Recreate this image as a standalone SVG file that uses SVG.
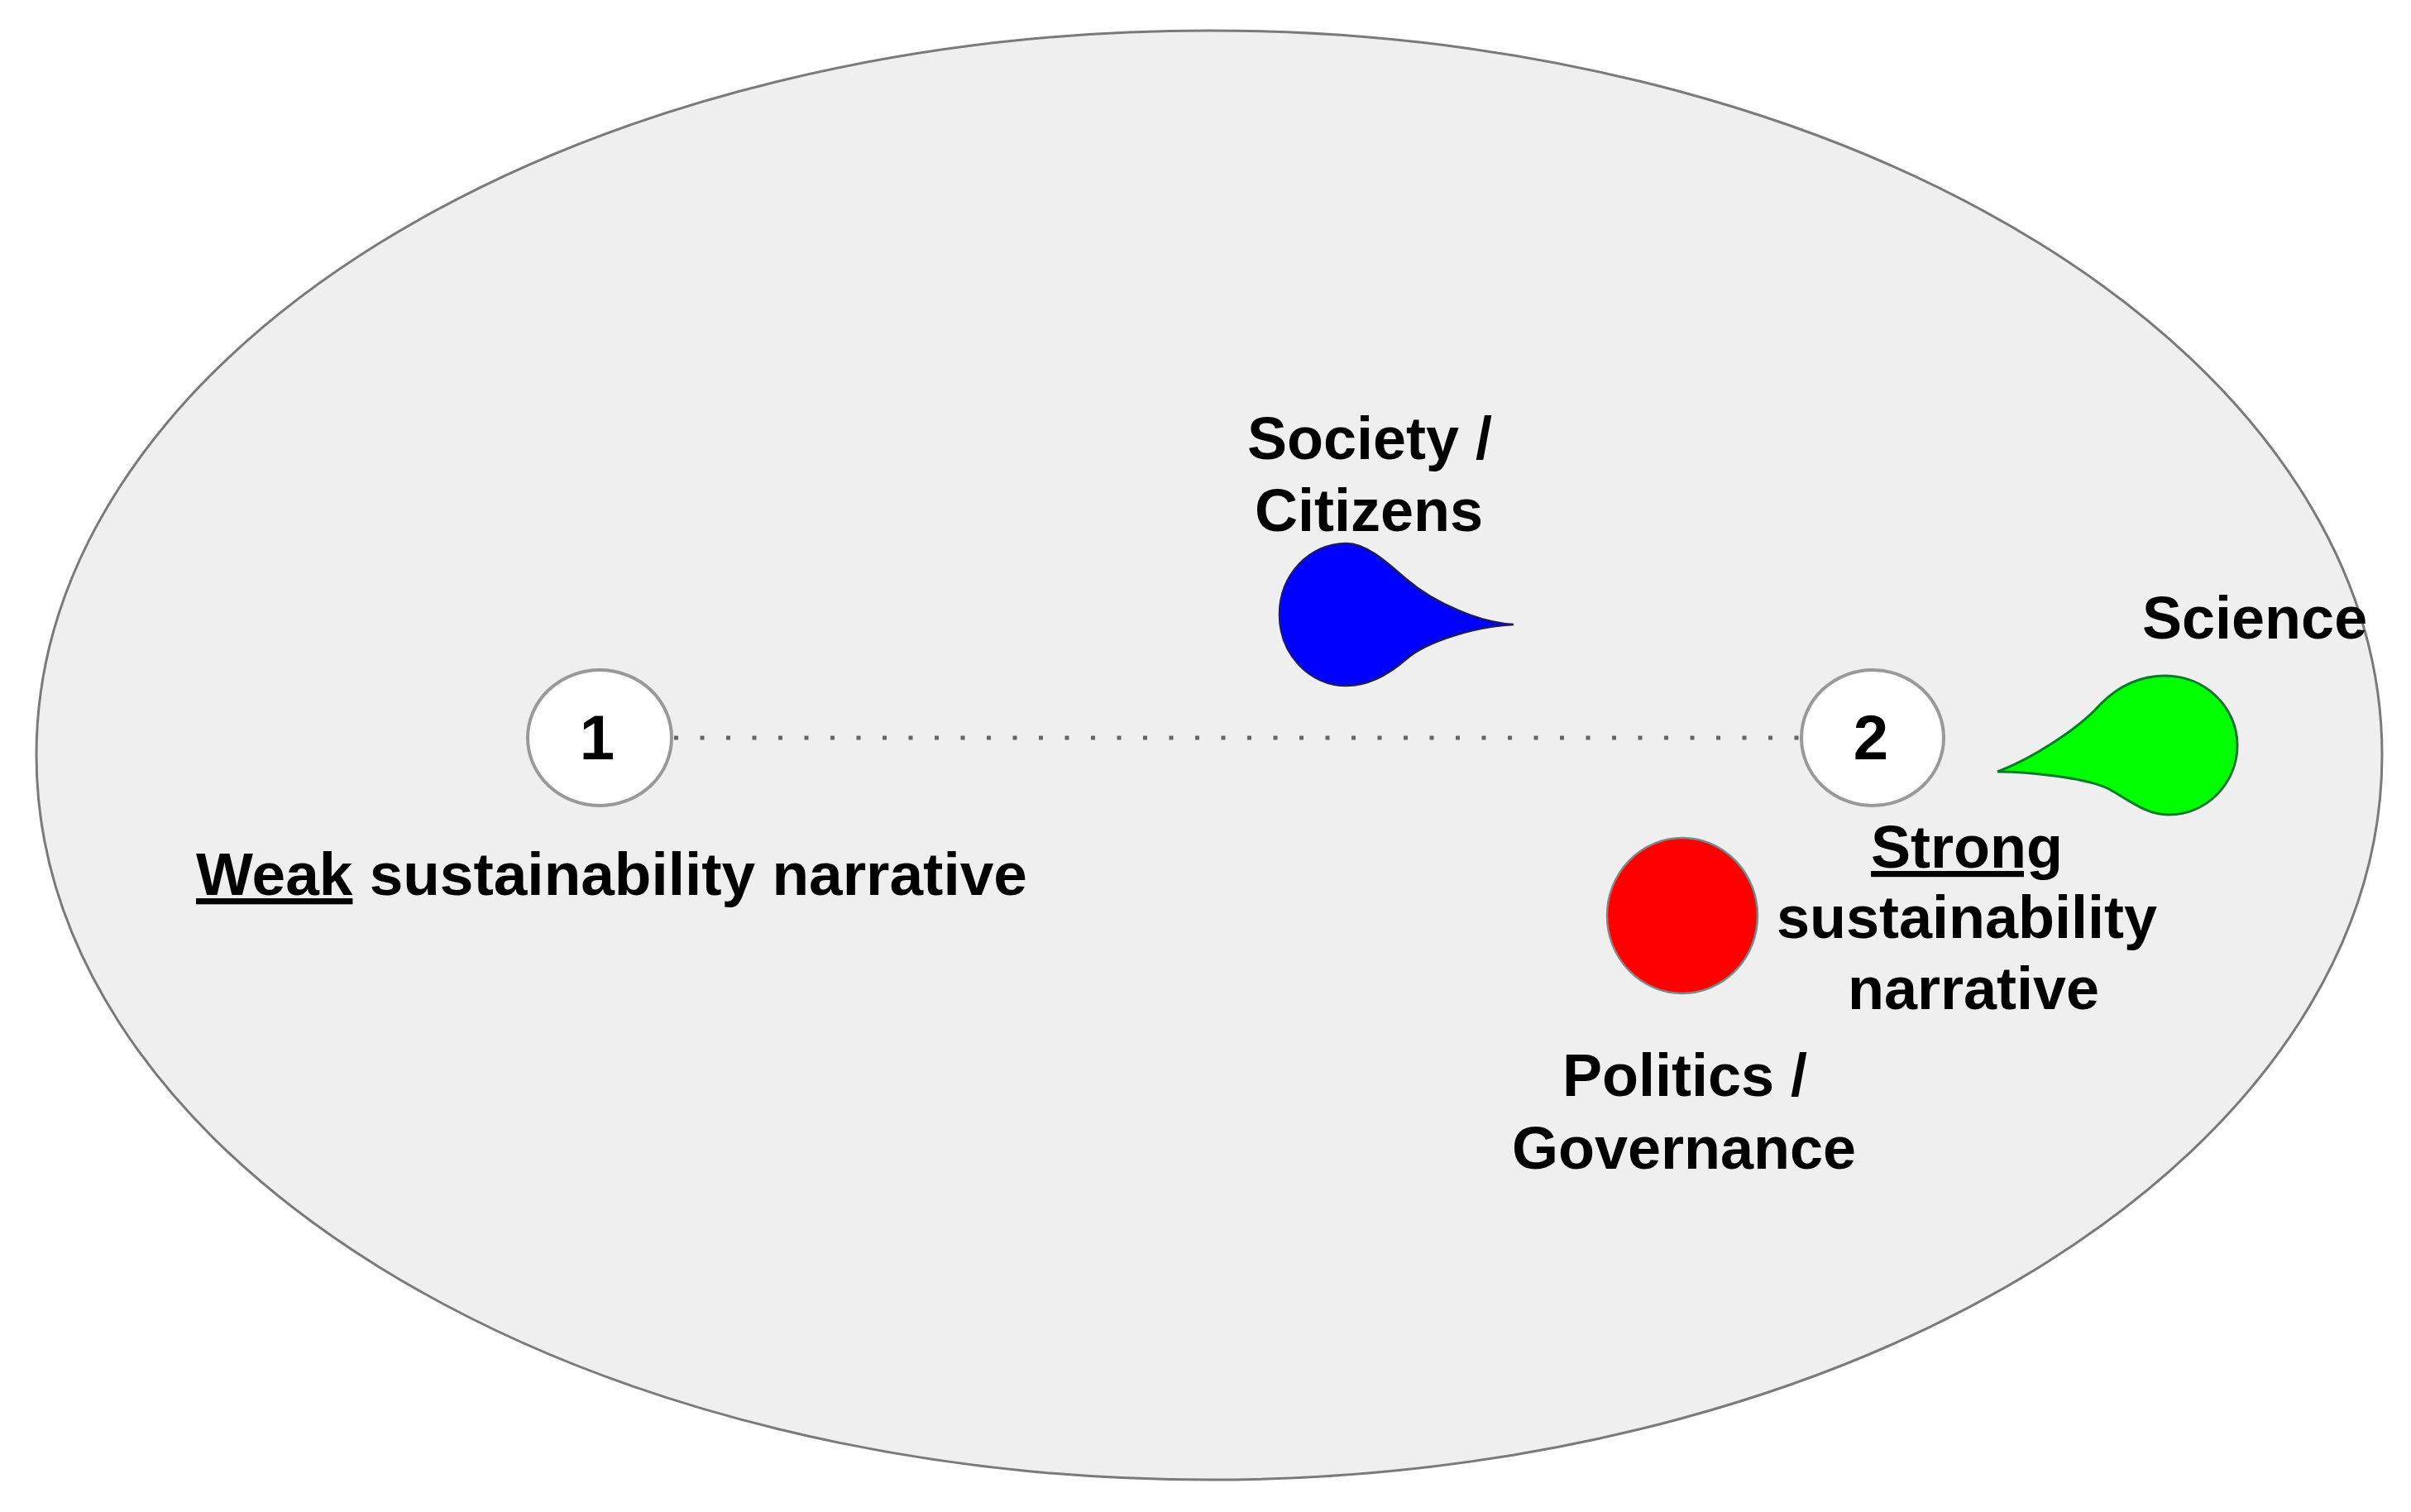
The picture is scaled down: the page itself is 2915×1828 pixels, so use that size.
<svg xmlns="http://www.w3.org/2000/svg" width="2915" height="1828" viewBox="0 0 2915 1828">
  <style>
    .lbl { font-family: "Liberation Sans", Arial, sans-serif; font-weight: bold; font-size: 72px; fill: #000; }
    .num { font-family: "Liberation Sans", Arial, sans-serif; font-weight: bold; font-size: 76px; fill: #000; text-anchor: middle; }
    .mid { text-anchor: middle; }
    .stage { fill: #ffffff; stroke: #999999; stroke-width: 4; }
    .conn { stroke: #666666; stroke-width: 5; stroke-dasharray: 5 26.5; fill: none; }
  </style>
  <rect x="0" y="0" width="2915" height="1828" fill="#ffffff"/>
  <g id="background">
    <ellipse cx="1462" cy="913" rx="1418" ry="876" fill="#efefef" stroke="#7a7a7a" stroke-width="3"/>
  </g>
  <g id="connectors">
    <line class="conn" x1="815" y1="892" x2="2178" y2="892"/>
  </g>
  <g id="node-1">
    <ellipse class="stage" cx="725" cy="892" rx="87" ry="82"/>
    <text class="num" x="722" y="918">1</text>
    <text class="lbl" x="237" y="1082" style="font-size:73px"><tspan text-decoration="underline">Weak</tspan> sustainability narrative</text>
  </g>
  <g id="node-2">
    <ellipse class="stage" cx="2264" cy="892" rx="86" ry="82"/>
    <text class="num" x="2262" y="918">2</text>
    <text class="lbl mid" x="2378" y="1049" text-decoration="underline">Strong</text>
    <text class="lbl mid" x="2378" y="1134">sustainability</text>
    <text class="lbl mid" x="2386" y="1220">narrative</text>
  </g>
  <g id="society">
    <path d="M1830,755 C1790,753 1735,730 1700,700 C1680,683 1653,657 1628,657 C1583,657 1547,695.5 1547,743 C1547,790.5 1583,829 1628,829 C1660,829 1685,810 1700,797 C1725,775 1785,757 1830,755 Z" fill="#0000ff" stroke="#1a1a66" stroke-width="2.5"/>
    <text class="lbl mid" x="1656" y="555">Society /</text>
    <text class="lbl mid" x="1655" y="642">Citizens</text>
  </g>
  <g id="science">
    <path d="M2415,933 C2455,918 2512,882 2538,853 C2560,830 2585,817 2618,817 C2666,817 2705,855 2705,901 C2705,947 2668,985 2622,985 C2594,985 2572,966 2550,954 C2523,940 2450,933 2415,933 Z" fill="#00ff00" stroke="#0b7a2b" stroke-width="3"/>
    <text class="lbl" x="2590" y="772">Science</text>
  </g>
  <g id="politics">
    <ellipse cx="2034" cy="1107" rx="91" ry="94" fill="#ff0000" stroke="#7a8a8a" stroke-width="2.5"/>
    <text class="lbl mid" x="2037" y="1325">Politics /</text>
    <text class="lbl mid" x="2036" y="1413">Governance</text>
  </g>
</svg>
